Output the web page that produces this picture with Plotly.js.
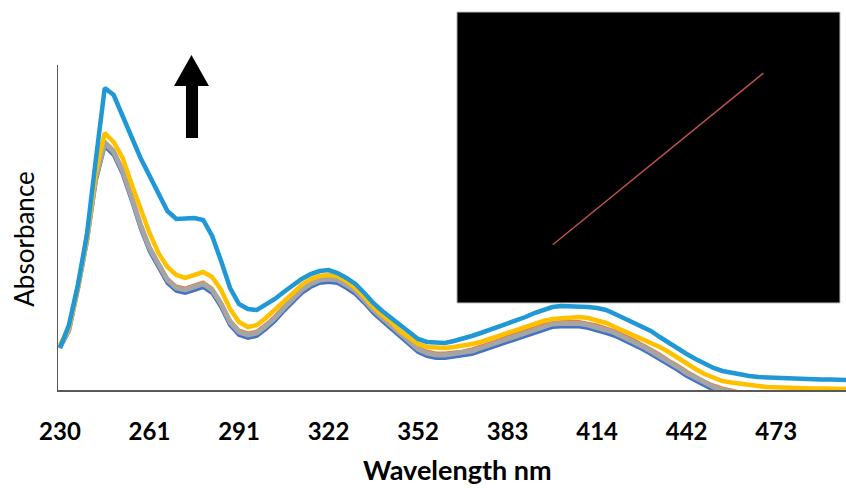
<!DOCTYPE html>
<html>
<head>
<meta charset="utf-8">
<script src="https://cdn.plot.ly/plotly-3.0.1.min.js"></script>
<style>html,body{margin:0;padding:0;background:#fff;}#chart{width:846px;height:488px;}</style>
</head>
<body>
<div id="chart"></div>
<script>
// Wavelength categories (nm)
const wavelengths = [230,233,236,239,242,245,248,251,254,258,
  261,264,267,270,273,276,279,282,285,288,
  291,294,297,300,303,306,309,313,316,319,
  322,325,328,331,334,337,340,343,346,349,
  352,355,358,361,364,367,370,374,377,380,
  383,386,389,392,395,398,401,405,408,411,
  414,417,420,422,425,428,431,434,436,439,
  442,445,448,451,454,457,460,464,467,470,
  473,476,479,482,485,488,491,494,497];

const tickLabels = [230,261,291,322,352,383,414,442,473];

// Absorbance series (lowest to highest)
const absSeries1 = [0.42,0.59,1.01,1.48,2.09,2.44,2.35,2.16,1.90,1.62,
  1.39,1.22,1.07,0.99,0.97,1.00,1.03,0.97,0.83,0.65,
  0.55,0.52,0.54,0.61,0.69,0.79,0.88,0.97,1.03,1.07,
  1.08,1.07,1.02,0.96,0.87,0.77,0.69,0.61,0.53,0.45,
  0.38,0.34,0.32,0.32,0.33,0.34,0.36,0.39,0.42,0.45,
  0.49,0.52,0.55,0.58,0.61,0.63,0.635,0.64,0.635,0.62,
  0.60,0.57,0.54,0.50,0.46,0.41,0.36,0.31,0.25,0.20,
  0.14,0.09,0.04,0.00,-0.03,-0.05,-0.07,-0.08,-0.09,-0.10,
  -0.11,-0.11,-0.12,-0.12,-0.12,-0.13,-0.13,-0.13,-0.13];

const absSeries2 = [0.44,0.61,1.03,1.51,2.13,2.49,2.40,2.21,1.95,1.67,
  1.44,1.27,1.12,1.04,1.02,1.05,1.08,1.02,0.88,0.70,
  0.60,0.57,0.59,0.66,0.74,0.84,0.93,1.02,1.08,1.12,
  1.13,1.12,1.07,1.01,0.92,0.82,0.74,0.66,0.58,0.50,
  0.43,0.39,0.37,0.37,0.38,0.39,0.41,0.44,0.47,0.50,
  0.54,0.57,0.60,0.63,0.66,0.68,0.685,0.69,0.685,0.67,
  0.65,0.62,0.59,0.55,0.51,0.46,0.41,0.36,0.30,0.25,
  0.19,0.14,0.09,0.05,0.02,0.00,-0.02,-0.03,-0.04,-0.05,
  -0.06,-0.06,-0.07,-0.07,-0.07,-0.08,-0.08,-0.08,-0.08];

const absSeries3 = [0.43,0.60,1.02,1.50,2.12,2.47,2.38,2.19,1.93,1.65,
  1.42,1.25,1.10,1.02,1.00,1.03,1.06,1.00,0.86,0.68,
  0.58,0.55,0.57,0.64,0.72,0.82,0.91,1.00,1.06,1.10,
  1.11,1.10,1.05,0.99,0.90,0.80,0.72,0.64,0.56,0.48,
  0.41,0.37,0.35,0.35,0.36,0.37,0.39,0.42,0.45,0.48,
  0.52,0.55,0.58,0.61,0.64,0.66,0.665,0.67,0.665,0.65,
  0.63,0.60,0.57,0.53,0.49,0.44,0.39,0.34,0.28,0.23,
  0.17,0.12,0.07,0.03,0.00,-0.02,-0.04,-0.05,-0.06,-0.07,
  -0.08,-0.08,-0.09,-0.09,-0.09,-0.10,-0.10,-0.10,-0.10];

const absSeries4 = [0.45,0.62,1.03,1.52,2.18,2.57,2.48,2.32,2.06,1.80,
  1.57,1.37,1.23,1.15,1.12,1.15,1.18,1.13,1.00,0.81,
  0.68,0.63,0.65,0.72,0.80,0.89,0.97,1.05,1.11,1.14,
  1.15,1.14,1.09,1.02,0.93,0.83,0.75,0.68,0.59,0.52,
  0.46,0.43,0.42,0.42,0.43,0.44,0.46,0.48,0.51,0.54,
  0.58,0.61,0.64,0.67,0.69,0.71,0.72,0.73,0.73,0.72,
  0.70,0.67,0.63,0.59,0.56,0.52,0.48,0.43,0.38,0.32,
  0.26,0.21,0.16,0.12,0.09,0.075,0.06,0.05,0.04,0.03,
  0.025,0.02,0.02,0.02,0.015,0.015,0.015,0.01,0.01];

const absSeries5 = [0.42,0.65,1.05,1.55,2.30,3.02,2.95,2.75,2.53,2.32,
  2.14,1.96,1.79,1.71,1.72,1.72,1.70,1.54,1.29,1.02,
  0.86,0.81,0.80,0.85,0.91,0.98,1.05,1.11,1.16,1.19,
  1.20,1.17,1.12,1.06,0.97,0.87,0.79,0.72,0.64,0.57,
  0.51,0.48,0.47,0.47,0.49,0.51,0.54,0.57,0.60,0.63,
  0.66,0.69,0.73,0.77,0.80,0.83,0.84,0.84,0.84,0.83,
  0.82,0.80,0.76,0.72,0.68,0.64,0.59,0.53,0.47,0.41,
  0.36,0.31,0.26,0.22,0.19,0.17,0.155,0.14,0.13,0.125,
  0.12,0.115,0.11,0.11,0.11,0.105,0.105,0.10,0.10];

// Inset calibration line
const insetConc = [0.25, 0.80];
const insetAbs = [0.20, 0.79];

const series = [
  {y: absSeries1, color: '#4472C4', w: 4},
  {y: absSeries2, color: '#ED7D31', w: 3},
  {y: absSeries3, color: '#A5A5A5', w: 5},
  {y: absSeries4, color: '#FFC000', w: 4.5},
  {y: absSeries5, color: '#1F98D5', w: 4.5}
];

const traces = series.map(s => ({
  type: 'scatter', mode: 'lines', x: wavelengths, y: s.y,
  line: {color: s.color, width: s.w}, xaxis: 'x', yaxis: 'y'
}));
traces.push({
  type: 'scatter', mode: 'lines', x: insetConc, y: insetAbs,
  line: {color: '#C0504D', width: 1.5}, xaxis: 'x2', yaxis: 'y2'
});

const layout = {
  width: 846, height: 488,
  margin: {l: 58, r: 0, t: 12, b: 98},
  paper_bgcolor: '#ffffff', plot_bgcolor: 'rgba(0,0,0,0)',
  showlegend: false, hovermode: false,
  font: {family: 'Lato, "Open Sans", sans-serif', color: '#000'},
  xaxis: {
    type: 'category', domain: [0, 1], range: [-0.22, 87.8],
    tickmode: 'array', tickvals: tickLabels, ticktext: tickLabels.map(String),
    showgrid: false, zeroline: false, ticks: '',
    showline: true, linecolor: '#595959', linewidth: 1.5,
    tickfont: {size: 24, family: 'Lato', weight: 'bold', color: '#000'},
    ticklabelstandoff: 20
  },
  yaxis: {
    domain: [0, 0.8598], range: [0, 3.25],
    showticklabels: false, ticks: '', showgrid: false, zeroline: false,
    showline: true, linecolor: '#595959', linewidth: 1.5
  },
  xaxis2: {domain: [0.5063, 0.9924], range: [0, 1], anchor: 'y2', visible: false},
  yaxis2: {domain: [0.2302, 1.0], range: [0, 1], anchor: 'x2', visible: false},
  shapes: [
    {type: 'rect', xref: 'paper', yref: 'paper', x0: 0.5063, x1: 0.9924, y0: 0.2302, y1: 1.0,
     fillcolor: '#000', line: {color: '#BFBFBF', width: 1}, layer: 'below'},
    {type: 'path', xref: 'paper', yref: 'paper',
     path: 'M 0.1624,0.6667 L 0.1624,0.8042 L 0.1472,0.8042 L 0.1694,0.8862 L 0.1916,0.8042 L 0.1777,0.8042 L 0.1777,0.6667 Z',
     fillcolor: '#000', line: {color: '#000', width: 0}}
  ],
  annotations: [
    {text: 'Absorbance', xref: 'paper', yref: 'paper', x: -0.0425, y: 0.399,
     xanchor: 'center', yanchor: 'middle', textangle: -90, showarrow: false,
     font: {size: 26, family: 'Lato', color: '#000'}},
    {text: 'Wavelength nm', xref: 'paper', yref: 'paper', x: 0.5076, y: -0.2090,
     xanchor: 'center', yanchor: 'middle', showarrow: false,
     font: {size: 27, family: 'Lato', weight: 'bold', color: '#000'}}
  ]
};

Plotly.newPlot('chart', traces, layout, {staticPlot: true, displayModeBar: false});
</script>
</body>
</html>
